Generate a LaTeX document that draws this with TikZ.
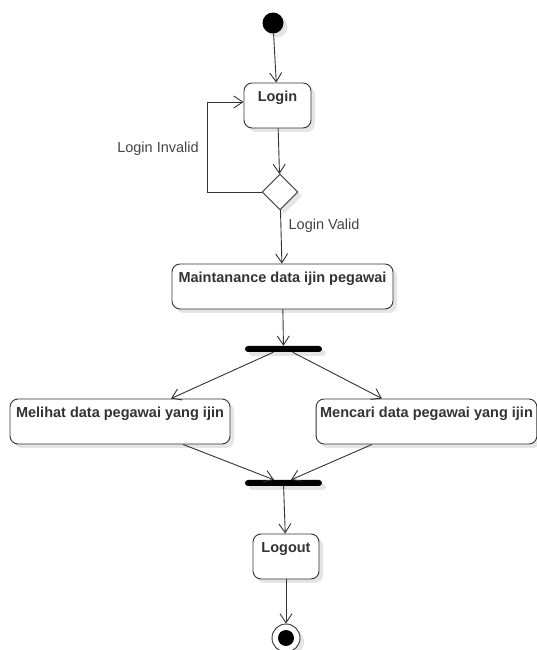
\documentclass[tikz,border=0pt]{standalone}
\usepackage{fontspec}
\setmainfont{Liberation Sans}
\usetikzlibrary{shapes.geometric,arrows.meta,shadows}
\definecolor{linegray}{HTML}{333333}
\definecolor{labelgray}{HTML}{444444}

\begin{document}
\begin{tikzpicture}[x=1pt,y=1pt,
    shade box/.style={drop shadow={shadow xshift=4pt,shadow yshift=-4pt,opacity=0.1,fill=black}},
    act/.style={draw=linegray,line width=0.9pt,rounded corners=8pt,fill=white,shade box,
        font=\bfseries\fontsize{14.5}{17}\selectfont,text=linegray,
        inner xsep=4pt,inner ysep=4pt,text height=15pt,text depth=22pt},
    dec/.style={diamond,draw=linegray,line width=0.9pt,fill=white,shade box,aspect=1,
        inner sep=0pt,minimum width=36pt,minimum height=36pt},
    bar/.style={fill=black,rounded corners=3pt,shade box,inner sep=0pt,
        minimum width=77pt,minimum height=6pt},
    lbl/.style={font=\fontsize{14.5}{17}\selectfont,text=labelgray,inner sep=0pt},
    arr/.style={draw=linegray,line width=0.9pt,-{Straight Barb[length=9pt,width=12pt]}}]
    \useasboundingbox (0,0) rectangle (537,650);

    \node[circle,fill=black,minimum size=21pt,inner sep=0pt,shade box] (start) at (273,627) {};
    \node[act,minimum width=67pt] (login) at (277.5,544.5) {Login};
    \node[dec] (check) at (280,458) {};
    \node[act,minimum width=221pt] (maint) at (282.5,363.5) {Maintanance data ijin pegawai};
    \node[bar] (fork) at (283.5,301) {};
    \node[act,minimum width=220pt] (lihat) at (120,228.5) {Melihat data pegawai yang ijin};
    \node[act,minimum width=220pt] (cari) at (426.5,228.5) {Mencari data pegawai yang ijin};
    \node[bar] (join) at (283.5,167) {};
    \node[act,minimum width=66pt] (logout) at (286,93.5) {Logout};
    \node[circle,draw=linegray,line width=0.9pt,fill=white,minimum size=28pt,inner sep=0pt,shade box] (final) at (286,12) {};
    \fill[black] (final.center) circle (8);

    \node[lbl] (invalid) at (158,501) {Login Invalid};
    \node[lbl] (valid) at (324,424) {Login Valid};

    \draw[arr] (start) -- (login);
    \draw[arr] (login) -- (check);
    \draw[arr] (check.west) -- ++(-54,0) |- ([yshift=3.5pt]login.west);
    \draw[arr] (check) -- (maint);
    \draw[arr] (maint) -- (fork);
    \draw[arr] ([xshift=-10pt]fork.south) -- ([xshift=51pt]lihat.north);
    \draw[arr] ([xshift=9pt]fork.south) -- ([xshift=-44.5pt]cari.north);
    \draw[arr] ([xshift=63pt]lihat.south) -- ([xshift=-9.5pt]join.north);
    \draw[arr] ([xshift=-54.5pt]cari.south) -- ([xshift=7.5pt]join.north);
    \draw[arr] (join) -- (logout);
    \draw[arr] (logout) -- (final);
\end{tikzpicture}
\end{document}
